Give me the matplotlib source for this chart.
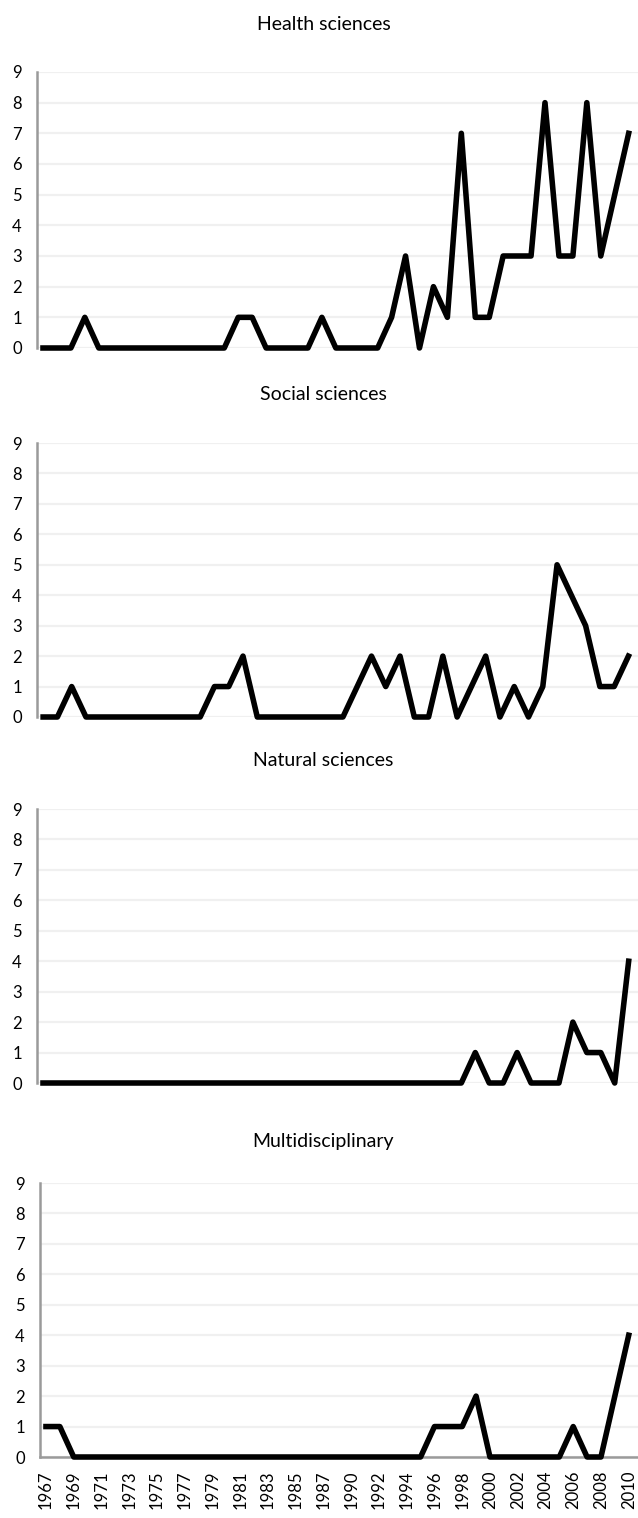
import matplotlib.pyplot as plt

plt.rcParams['font.family'] = ['Lato', 'DejaVu Sans']

# x categories (year axis of the charts)
years = list(range(1967, 1988)) + [1989] + list(range(1990, 2011))
social_years = list(range(1967, 1988)) + list(range(1990, 2011))

health = [0, 0, 0, 1, 0, 0, 0, 0, 0, 0, 0, 0, 0, 0, 1, 1, 0, 0, 0, 0, 1, 0,
          0, 0, 0, 1, 3, 0, 2, 1, 7, 1, 1, 3, 3, 3, 8, 3, 3, 8, 3, 5, 7]
social = [0, 0, 1, 0, 0, 0, 0, 0, 0, 0, 0, 0, 1, 1, 2, 0, 0, 0, 0, 0, 0,
          0, 1, 2, 1, 2, 0, 0, 2, 0, 1, 2, 0, 1, 0, 1, 5, 4, 3, 1, 1, 2]
natural = [0] * 31 + [1, 0, 0, 1, 0, 0, 0, 2, 1, 1, 0, 4]
multi = [1, 1] + [0] * 26 + [1, 1, 1, 2, 0, 0, 0, 0, 0, 0, 1, 0, 0, 2, 4]

panels = [
    ('Health sciences', years, health),
    ('Social sciences', social_years, social),
    ('Natural sciences', years, natural),
    ('Multidisciplinary', years, multi),
]

W, H = 638, 1518
fig = plt.figure(figsize=(W / 100, H / 100), dpi=100)

# (left px, y of 0 px, y of 9 px, title y px)
boxes = [(37, 348, 72, 25), (37, 717, 443, 395),
         (37, 1083, 809, 760), (40, 1457, 1183, 1142)]

for (title, cats, vals), (lx, y0, y9, ty) in zip(panels, boxes):
    ax = fig.add_axes([lx / W, 1 - y0 / H, (W - lx) / W, (y0 - y9) / H])
    x = list(range(len(cats)))
    ax.plot(x, vals, color='black', lw=4.0, clip_on=False,
            solid_joinstyle='round', zorder=3)
    ax.set_xlim(-0.43, len(cats) - 1 + 0.67)
    ax.set_ylim(0, 9)
    ax.set_yticks(range(10))
    ax.grid(axis='y', color='#f0f0f0', lw=1.6, zorder=0)
    for s in ['top', 'right', 'bottom']:
        ax.spines[s].set_visible(False)
    ax.spines['left'].set_color('#9a9a9a')
    ax.spines['left'].set_linewidth(1.8)
    ax.tick_params(axis='y', length=0, pad=11, labelsize=12)
    if title == 'Multidisciplinary':
        ax.spines['bottom'].set_visible(True)
        ax.spines['bottom'].set_color('#9a9a9a')
        ax.spines['bottom'].set_linewidth(1.8)
        ax.set_xticks(x[::2])
        ax.set_xticklabels([str(c) for c in cats[::2]], rotation=90)
        ax.tick_params(axis='x', length=0, pad=10, labelsize=12)
    else:
        ax.set_xticks([])
    fig.text(0.507, 1 - ty / H, title, ha='center', va='center', fontsize=14)

fig.savefig('out.png', dpi=100)
